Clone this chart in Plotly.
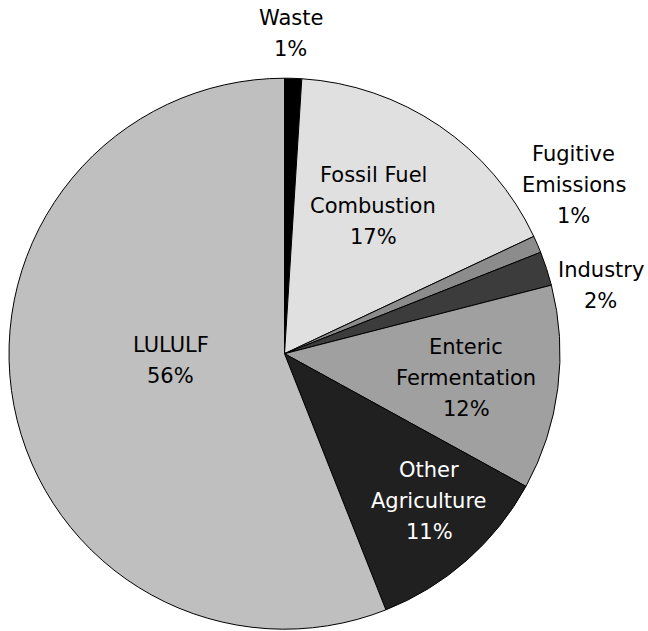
import math
import plotly.graph_objects as go

# ---- data ----
categories = ["Waste", "Fossil Fuel Combustion", "Fugitive Emissions", "Industry",
              "Enteric Fermentation", "Other Agriculture", "LULULF"]
values = [1, 17, 1, 2, 12, 11, 56]

# ---- style ----
colors = ["#000000", "#e0e0e0", "#8c8c8c", "#3c3c3c", "#a0a0a0", "#202020", "#bfbfbf"]
text_colors = ["#000000", "#000000", "#000000", "#000000", "#000000", "#ffffff", "#000000"]
label_lines = {
    "Fossil Fuel Combustion": ["Fossil Fuel", "Combustion"],
    "Fugitive Emissions": ["Fugitive", "Emissions"],
    "Enteric Fermentation": ["Enteric", "Fermentation"],
    "Other Agriculture": ["Other", "Agriculture"],
}
# label placement: fraction of radius and angular nudge (degrees)
label_rf = [1.161, 0.625, 1.217, 1.175, 0.665, 0.748, 0.413]
label_dang = [-0.64, -3.27, -6.9, 5.8, 0.4, -3.15, 7.6]

W, H = 648, 631
cx, cy, R = 284.5, 353.7, 275.5
FONT = "DejaVu Sans"
FS = 21
LINE_SP = 31

fig = go.Figure(go.Pie(
    labels=categories,
    values=values,
    sort=False,
    direction="clockwise",
    rotation=0,
    marker=dict(colors=colors, line=dict(color="#000000", width=1)),
    textinfo="none",
    hoverinfo="label+percent",
    showlegend=False,
    domain=dict(x=[(cx - R) / W, (cx + R) / W], y=[(H - cy - R) / H, (H - cy + R) / H]),
))

total = sum(values)
cum = 0
annotations = []
for i, (cat, v) in enumerate(zip(categories, values)):
    mid = (cum + v / 2) / total * 360.0
    cum += v
    ang = math.radians(mid + label_dang[i])
    r = label_rf[i] * R
    px = cx + r * math.sin(ang)
    py = cy - r * math.cos(ang)
    lines = label_lines.get(cat, [cat]) + [f"{round(v / total * 100)}%"]
    n = len(lines)
    for j, t in enumerate(lines):
        annotations.append(dict(
            x=px / W, y=1 - py / H, xref="paper", yref="paper",
            text=t, showarrow=False, xanchor="center", yanchor="middle",
            yshift=((n - 1) / 2 - j) * LINE_SP,
            font=dict(family=FONT, size=FS, color=text_colors[i]),
        ))

fig.update_layout(
    width=W, height=H,
    margin=dict(l=0, r=0, t=0, b=0),
    paper_bgcolor="#ffffff",
    plot_bgcolor="#ffffff",
    annotations=annotations,
)

fig.write_html(
    "out.html",
    config={"displayModeBar": False},
    post_script="document.body.style.margin='0';document.body.style.padding='0';"
                "document.body.style.overflow='hidden';",
)
